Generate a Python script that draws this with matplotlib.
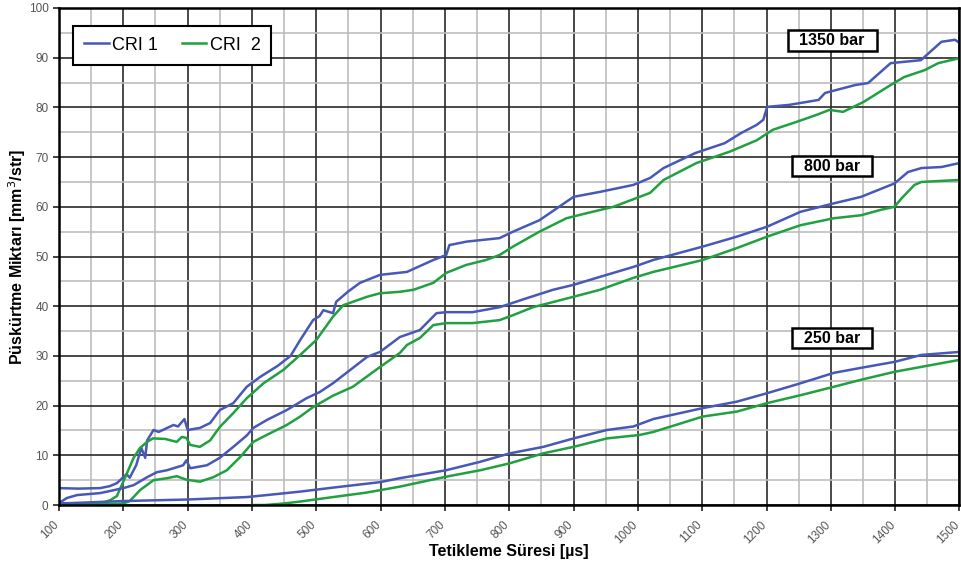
import matplotlib
matplotlib.use("Agg")
import matplotlib.pyplot as plt
import matplotlib.transforms as mtransforms
from matplotlib.ticker import MultipleLocator

# ---- data ----
x_cri1_1350 = [100, 130, 164, 179, 190, 200, 205, 210, 220, 228, 234, 237, 247, 255, 268, 278, 285, 295, 300,
               319, 335, 350, 371, 392, 413, 440, 460, 475, 495, 505, 511, 526, 531, 550, 568, 599, 641, 682,
               702, 707, 734, 785, 806, 847, 900, 941, 993, 1019, 1040, 1089, 1135, 1160, 1185, 1195, 1201,
               1235, 1281, 1291, 1338, 1358, 1393, 1440, 1472, 1493, 1500]
y_cri1_1350 = [3.4, 3.3, 3.4, 3.8, 4.4, 5.6, 6.2, 5.5, 8.0, 11.5, 9.5, 13.0, 15.1, 14.7, 15.5, 16.1, 15.8, 17.3, 15.1,
               15.5, 16.5, 19.1, 20.5, 23.8, 25.8, 28.0, 30.0, 33.2, 37.2, 38.0, 39.2, 38.6, 40.9, 43.0, 44.7, 46.3,
               46.9, 49.3, 50.3, 52.3, 53.0, 53.7, 55.0, 57.3, 62.0, 63.0, 64.4, 65.8, 67.8, 70.8, 72.8, 74.8,
               76.5, 77.5, 80.1, 80.5, 81.5, 82.9, 84.5, 84.9, 88.9, 89.5, 93.2, 93.6, 93.0]

x_cri2_1350 = [100, 165, 180, 190, 203, 216, 226, 237, 246, 265, 283, 291, 298, 304, 319, 335, 350, 371, 392, 418,
               449, 475, 500, 526, 542, 579, 599, 630, 651, 682, 702, 733, 764, 785, 806, 847, 889, 920, 962,
               1019, 1040, 1091, 1143, 1185, 1210, 1247, 1278, 1298, 1319, 1351, 1393, 1414, 1446, 1467, 1500]
y_cri2_1350 = [0.3, 0.3, 1.0, 1.8, 5.6, 9.5, 11.5, 12.7, 13.4, 13.3, 12.7, 13.7, 13.5, 12.1, 11.7, 13.0, 15.7, 18.5,
               21.5, 24.5, 27.2, 30.2, 33.2, 37.9, 40.2, 41.9, 42.6, 42.9, 43.3, 44.7, 46.7, 48.3, 49.3, 50.3,
               52.0, 55.0, 57.7, 58.7, 60.0, 62.8, 65.4, 68.8, 71.1, 73.4, 75.5, 77.1, 78.5, 79.5, 79.1, 81.1,
               84.5, 86.1, 87.5, 88.9, 89.9]

x_cri1_800 = [100, 112, 128, 164, 200, 216, 237, 252, 268, 293, 298, 304, 330, 350, 371, 392, 402, 423, 454, 485,
              505, 526, 579, 599, 630, 661, 687, 702, 743, 785, 827, 868, 900, 941, 993, 1024, 1101, 1154, 1201,
              1253, 1305, 1347, 1399, 1420, 1441, 1472, 1500]
y_cri1_800 = [0.4, 1.4, 2.0, 2.4, 3.4, 4.0, 5.6, 6.6, 7.0, 8.0, 9.0, 7.4, 8.0, 9.5, 11.7, 14.0, 15.5, 17.1, 19.1,
              21.5, 22.7, 24.5, 29.8, 30.8, 33.8, 35.2, 38.6, 38.8, 38.8, 39.8, 41.6, 43.3, 44.3, 45.9, 47.9,
              49.3, 52.0, 54.0, 56.0, 59.0, 60.7, 62.0, 64.7, 67.0, 67.8, 68.0, 68.8]

x_cri2_800 = [100, 200, 210, 226, 247, 268, 283, 298, 319, 340, 361, 382, 402, 423, 454, 475, 495, 526, 557, 593,
              630, 641, 661, 682, 702, 743, 785, 806, 837, 900, 941, 993, 1024, 1101, 1154, 1201, 1253, 1305,
              1347, 1378, 1399, 1410, 1430, 1441, 1500]
y_cri2_800 = [0.0, 0.3, 0.8, 3.0, 5.0, 5.4, 5.8, 5.1, 4.7, 5.6, 7.0, 9.7, 12.7, 14.1, 16.1, 17.8, 19.7, 22.0, 23.8,
              27.2, 30.6, 32.2, 33.6, 36.2, 36.6, 36.6, 37.2, 38.2, 39.8, 41.9, 43.3, 45.7, 46.9, 49.3, 51.7,
              54.0, 56.3, 57.7, 58.3, 59.4, 60.0, 61.7, 64.4, 65.0, 65.4]

x_cri1_250 = [100, 200, 298, 392, 423, 475, 526, 599, 630, 702, 755, 801, 853, 900, 952, 993, 1024, 1101, 1154,
              1201, 1253, 1305, 1347, 1399, 1441, 1500]
y_cri1_250 = [0.3, 0.8, 1.1, 1.6, 2.0, 2.7, 3.5, 4.6, 5.4, 7.0, 8.7, 10.4, 11.7, 13.4, 15.1, 15.8, 17.3, 19.5,
              20.8, 22.5, 24.5, 26.6, 27.6, 28.8, 30.2, 30.8]

x_cri2_250 = [400, 420, 449, 475, 526, 578, 630, 702, 755, 801, 853, 900, 952, 1003, 1024, 1101, 1154, 1201,
              1253, 1305, 1347, 1399, 1441, 1500]
y_cri2_250 = [0.0, 0.0, 0.3, 0.7, 1.6, 2.5, 3.7, 5.7, 7.0, 8.4, 10.4, 11.7, 13.4, 14.1, 14.7, 17.8, 18.8, 20.5,
              22.1, 23.8, 25.2, 26.8, 27.8, 29.2]

pressure_labels = ["1350 bar", "800 bar", "250 bar"]
label_x = [1302, 1302, 1302]
label_y = [93.4, 68.2, 33.6]

series_names = ["CRI 1", "CRI  2"]
x_ticks = list(range(100, 1501, 100))
y_ticks = list(range(0, 101, 10))

BLUE = "#4758b8"
GREEN = "#20a040"

plt.rcParams["font.family"] = ["Liberation Sans", "DejaVu Sans"]

fig = plt.figure(figsize=(9.61, 5.70), dpi=100)
ax = fig.add_axes([0.0614, 0.114, 0.937, 0.872])

ax.plot(x_cri1_1350, y_cri1_1350, color=BLUE, lw=1.8, label=series_names[0], zorder=3)
ax.plot(x_cri2_1350, y_cri2_1350, color=GREEN, lw=1.8, label=series_names[1], zorder=3)
ax.plot(x_cri1_800, y_cri1_800, color=BLUE, lw=1.8, zorder=3)
ax.plot(x_cri2_800, y_cri2_800, color=GREEN, lw=1.8, zorder=3)
ax.plot(x_cri1_250, y_cri1_250, color=BLUE, lw=1.8, zorder=3)
ax.plot(x_cri2_250, y_cri2_250, color=GREEN, lw=1.8, zorder=3)

ax.set_xlim(100, 1500)
ax.set_ylim(0, 100)
ax.set_xticks(x_ticks)
ax.set_yticks(y_ticks)
ax.xaxis.set_minor_locator(MultipleLocator(50))
ax.yaxis.set_minor_locator(MultipleLocator(5))
ax.grid(which="major", color="#2a2a2a", lw=1.2, zorder=1)
ax.grid(which="minor", color="#bdbdbd", lw=1.2, zorder=0)
ax.set_axisbelow(True)

for s in ax.spines.values():
    s.set_color("black")
    s.set_linewidth(1.8)
    s.set_zorder(4)

ax.tick_params(axis="both", which="major", labelsize=8.5, labelcolor="#555555", length=4, width=1.2,
               color="#222222")
ax.tick_params(axis="x", which="major", pad=6)
ax.tick_params(axis="both", which="minor", length=0)
shift = mtransforms.ScaledTranslation(-6 / 100, 0, fig.dpi_scale_trans)
for lab in ax.get_xticklabels():
    lab.set_rotation(45)
    lab.set_ha("right")
    lab.set_rotation_mode("anchor")
    lab.set_transform(lab.get_transform() + shift)

ax.set_xlabel("Tetikleme Süresi [µs]", fontsize=11.5, fontweight="bold", va="center")
ax.xaxis.set_label_coords(0.5, -0.0926)
ax.set_ylabel("Püskürtme Miktarı [mm$^{3}$/str]", fontsize=11.5, fontweight="bold", va="center")
ax.yaxis.set_label_coords(-0.0467, 0.5)

leg = ax.legend(loc="upper left", bbox_to_anchor=(0.006, 0.982), ncol=2, fontsize=13,
                frameon=True, fancybox=False, edgecolor="black", handlelength=1.35,
                handletextpad=0.2, columnspacing=1.3, borderpad=0.6)
leg.get_frame().set_linewidth(1.5)
leg.get_frame().set_alpha(1)
leg.set_zorder(5)

for t, lx, ly in zip(pressure_labels, label_x, label_y):
    ax.text(lx, ly, "  " + t + "  ", ha="center", va="center", fontsize=11.5, fontweight="bold", zorder=6,
            bbox=dict(boxstyle="square,pad=0.18", fc="white", ec="black", lw=1.8))

fig.savefig("out.png", dpi=100)
